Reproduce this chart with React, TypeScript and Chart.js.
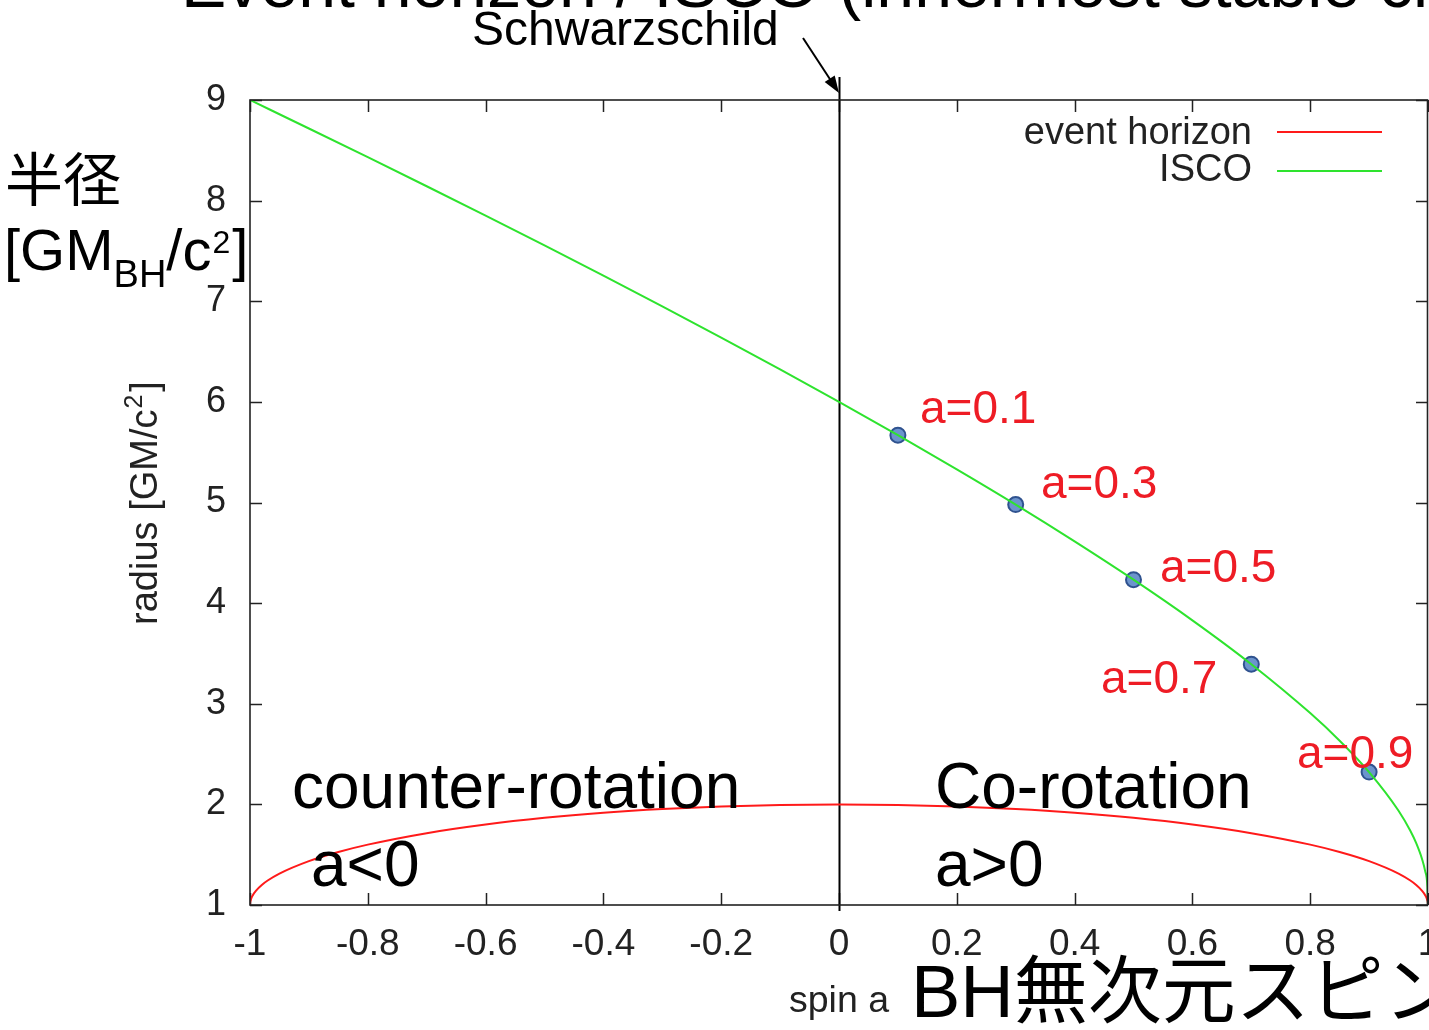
import { useEffect, useRef } from 'react';
import { Chart, registerables } from 'chart.js';

Chart.register(...registerables);

// Kerr black hole: outer event horizon radius vs spin
const horizonSpin = [-1, -0.9999, -0.999, -0.995, -0.99, -0.98, -0.97, -0.95, -0.9, -0.85, -0.8, -0.7, -0.6, -0.5, -0.4, -0.3, -0.2, -0.1, 0, 0.1, 0.2, 0.3, 0.4, 0.5, 0.6, 0.7, 0.8, 0.85, 0.9, 0.95, 0.97, 0.98, 0.99, 0.995, 0.999, 0.9999, 1];
const horizonRadius = [1, 1.0141, 1.0447, 1.0999, 1.1411, 1.199, 1.2431, 1.3122, 1.4359, 1.5268, 1.6, 1.7141, 1.8, 1.866, 1.9165, 1.9539, 1.9798, 1.995, 2, 1.995, 1.9798, 1.9539, 1.9165, 1.866, 1.8, 1.7141, 1.6, 1.5268, 1.4359, 1.3122, 1.2431, 1.199, 1.1411, 1.0999, 1.0447, 1.0141, 1];

// Innermost stable circular orbit radius vs spin
const iscoSpin = [-1, -0.9, -0.8, -0.7, -0.6, -0.5, -0.4, -0.3, -0.2, -0.1, 0, 0.1, 0.2, 0.3, 0.4, 0.5, 0.6, 0.7, 0.8, 0.85, 0.9, 0.95, 0.97, 0.98, 0.99, 0.995, 0.999, 1];
const iscoRadius = [9, 8.717, 8.432, 8.143, 7.851, 7.555, 7.254, 6.949, 6.639, 6.323, 6, 5.669, 5.329, 4.979, 4.614, 4.233, 3.829, 3.393, 2.907, 2.633, 2.321, 1.937, 1.738, 1.614, 1.455, 1.341, 1.182, 1];

// Highlighted spins on the ISCO curve
const markedSpin = [0.1, 0.3, 0.5, 0.7, 0.9];
const markedRadius = [5.669, 4.979, 4.233, 3.393, 2.321];
const markedLabels = ['a=0.1', 'a=0.3', 'a=0.5', 'a=0.7', 'a=0.9'];

const seriesNames = ['event horizon', 'ISCO'];

const xTickValues = [-1, -0.8, -0.6, -0.4, -0.2, 0, 0.2, 0.4, 0.6, 0.8, 1];
const xTickLabels = ['-1', '-0.8', '-0.6', '-0.4', '-0.2', '0', '0.2', '0.4', '0.6', '0.8', '1'];
const yTickValues = [1, 2, 3, 4, 5, 6, 7, 8, 9];
const yTickLabels = ['1', '2', '3', '4', '5', '6', '7', '8', '9'];

const SANS = '"Liberation Sans", Arial, Helvetica, sans-serif';
const JP = '"Liberation Sans", "Noto Sans CJK JP", sans-serif';
const RED_TEXT = '#ee1c25';
const AXIS_INK = '#222222';

// Label placements (left x, baseline y) for the spin markers
const markedLabelPos: [number, number][] = [
  [920, 423],
  [1041, 498],
  [1160, 582],
  [1101, 693],
  [1297, 768],
];

const framePlugin = {
  id: 'frame',
  beforeDatasetsDraw(chart: any) {
    const { ctx, chartArea } = chart;
    const xs = chart.scales.x;
    const ys = chart.scales.y;
    const tick = 12;
    ctx.save();
    ctx.strokeStyle = AXIS_INK;
    ctx.lineWidth = 1.5;
    ctx.beginPath();
    xTickValues.forEach((v) => {
      const px = Math.round(xs.getPixelForValue(v)) + 0.5;
      ctx.moveTo(px, chartArea.bottom);
      ctx.lineTo(px, chartArea.bottom - tick);
      ctx.moveTo(px, chartArea.top);
      ctx.lineTo(px, chartArea.top + tick);
    });
    yTickValues.forEach((v) => {
      const py = Math.round(ys.getPixelForValue(v)) + 0.5;
      ctx.moveTo(chartArea.left, py);
      ctx.lineTo(chartArea.left + tick, py);
      ctx.moveTo(chartArea.right, py);
      ctx.lineTo(chartArea.right - tick, py);
    });
    ctx.stroke();

    // x tick labels, placed on the x scale
    ctx.fillStyle = AXIS_INK;
    ctx.font = `37px ${SANS}`;
    ctx.textAlign = 'center';
    ctx.textBaseline = 'middle';
    xTickValues.forEach((v, i) => {
      ctx.fillText(xTickLabels[i], xs.getPixelForValue(v), chartArea.bottom + 40);
    });

    // a = 0 (Schwarzschild) divider
    const zx = Math.round(xs.getPixelForValue(0)) + 0.5;
    ctx.strokeStyle = '#000';
    ctx.lineWidth = 2;
    ctx.beginPath();
    ctx.moveTo(zx, chartArea.top - 23);
    ctx.lineTo(zx, chartArea.bottom + 6);
    ctx.stroke();
    ctx.restore();
  },
  afterDraw(chart: any) {
    const { ctx, chartArea } = chart;
    const xs = chart.scales.x;
    ctx.save();

    // plot border
    ctx.strokeStyle = AXIS_INK;
    ctx.lineWidth = 1.6;
    ctx.strokeRect(chartArea.left, chartArea.top, chartArea.right - chartArea.left - 0.5, chartArea.bottom - chartArea.top);

    // legend
    ctx.font = `38px ${SANS}`;
    ctx.fillStyle = AXIS_INK;
    ctx.textAlign = 'right';
    ctx.textBaseline = 'alphabetic';
    const legendRows = [
      { text: 144, line: 132 },
      { text: 181, line: 171 },
    ];
    chart.data.datasets.slice(0, 2).forEach((ds: any, i: number) => {
      ctx.fillText(ds.label, 1252, legendRows[i].text);
      ctx.strokeStyle = ds.borderColor;
      ctx.lineWidth = 2;
      ctx.beginPath();
      ctx.moveTo(1277, legendRows[i].line);
      ctx.lineTo(1382, legendRows[i].line);
      ctx.stroke();
    });

    // axis titles
    ctx.fillStyle = AXIS_INK;
    ctx.textAlign = 'center';
    ctx.font = `37.5px ${SANS}`;
    ctx.fillText('spin a', xs.getPixelForValue(0), 1012);

    ctx.save();
    ctx.translate(157, 503);
    ctx.rotate(-Math.PI / 2);
    ctx.textAlign = 'left';
    const main = 'radius [GM/c';
    ctx.font = `38px ${SANS}`;
    const wMain = ctx.measureText(main).width;
    ctx.font = `25px ${SANS}`;
    const wSup = ctx.measureText('2').width;
    ctx.font = `38px ${SANS}`;
    const wEnd = ctx.measureText(']').width;
    let cx = -(wMain + wSup + wEnd + 4) / 2;
    ctx.fillText(main, cx, 0);
    cx += wMain + 1;
    ctx.font = `25px ${SANS}`;
    ctx.fillText('2', cx, -15);
    cx += wSup + 3;
    ctx.font = `38px ${SANS}`;
    ctx.fillText(']', cx, 0);
    ctx.restore();

    // spin marker labels
    ctx.fillStyle = RED_TEXT;
    ctx.textAlign = 'left';
    ctx.font = `46px ${SANS}`;
    markedLabels.forEach((t, i) => {
      ctx.fillText(t, markedLabelPos[i][0], markedLabelPos[i][1]);
    });

    // rotation regimes
    ctx.fillStyle = '#000';
    ctx.font = `64px ${SANS}`;
    ctx.fillText('counter-rotation', 292, 808);
    ctx.fillText('a<0', 311, 886);
    ctx.fillText('Co-rotation', 935, 808);
    ctx.fillText('a>0', 935, 886);

    // heading (partly above the canvas)
    ctx.font = `68px ${SANS}`;
    ctx.fillText('Event horizon / ISCO (innermost stable circular orbit)', 181, 7);

    // Schwarzschild pointer
    ctx.font = `48px ${SANS}`;
    ctx.fillText('Schwarzschild', 472, 45);
    const tipX = xs.getPixelForValue(0);
    const tipY = chartArea.top - 7;
    const sx = 803;
    const sy = 38;
    const ang = Math.atan2(tipY - sy, tipX - sx);
    ctx.strokeStyle = '#000';
    ctx.lineWidth = 2;
    ctx.beginPath();
    ctx.moveTo(sx, sy);
    ctx.lineTo(tipX - 14 * Math.cos(ang), tipY - 14 * Math.sin(ang));
    ctx.stroke();
    ctx.beginPath();
    ctx.moveTo(tipX, tipY);
    ctx.lineTo(tipX - 17 * Math.cos(ang) + 6 * Math.sin(ang), tipY - 17 * Math.sin(ang) - 6 * Math.cos(ang));
    ctx.lineTo(tipX - 17 * Math.cos(ang) - 6 * Math.sin(ang), tipY - 17 * Math.sin(ang) + 6 * Math.cos(ang));
    ctx.closePath();
    ctx.fillStyle = '#000';
    ctx.fill();

    // Japanese axis captions
    ctx.fillStyle = '#000';
    ctx.font = `58px ${JP}`;
    ctx.fillText('半径', 5, 201);
    let bx = 4;
    ctx.font = `58px ${SANS}`;
    ctx.fillText('[GM', bx, 270);
    bx += ctx.measureText('[GM').width;
    ctx.font = `38px ${SANS}`;
    ctx.fillText('BH', bx, 287);
    bx += ctx.measureText('BH').width;
    ctx.font = `58px ${SANS}`;
    ctx.fillText('/c', bx, 270);
    bx += ctx.measureText('/c').width;
    ctx.font = `32px ${SANS}`;
    ctx.fillText('2', bx + 1, 253);
    bx += ctx.measureText('2').width + 3;
    ctx.font = `58px ${SANS}`;
    ctx.fillText(']', bx, 270);

    ctx.font = `74px ${JP}`;
    ctx.fillText('BH無次元スピン', 911, 1017);

    ctx.restore();
  },
};

export default function App() {
  const canvasRef = useRef<HTMLCanvasElement | null>(null);

  useEffect(() => {
    const canvas = canvasRef.current;
    if (!canvas) return;

    const chart = new Chart(canvas, {
      type: 'line',
      data: {
        datasets: [
          {
            label: seriesNames[0],
            data: horizonSpin.map((x, i) => ({ x, y: horizonRadius[i] })),
            borderColor: '#ff1a1a',
            borderWidth: 2,
            pointRadius: 0,
            cubicInterpolationMode: 'monotone',
            fill: false,
          },
          {
            label: seriesNames[1],
            data: iscoSpin.map((x, i) => ({ x, y: iscoRadius[i] })),
            borderColor: '#2ee32e',
            borderWidth: 2,
            pointRadius: 0,
            cubicInterpolationMode: 'monotone',
            fill: false,
          },
          {
            type: 'scatter',
            label: 'marked spins',
            data: markedSpin.map((x, i) => ({ x, y: markedRadius[i] })),
            showLine: false,
            pointRadius: 7.5,
            pointBackgroundColor: '#6c94cd',
            pointBorderColor: '#2f528f',
            pointBorderWidth: 2,
          },
        ],
      } as any,
      options: {
        responsive: false,
        animation: false,
        events: [],
        layout: { autoPadding: false, padding: { top: 100, right: 1, left: 0, bottom: 0 } },
        plugins: {
          legend: { display: false },
          tooltip: { enabled: false },
          title: { display: false },
        },
        scales: {
          x: {
            type: 'linear',
            min: -1,
            max: 1,
            grid: { display: false, drawTicks: false },
            border: { display: false },
            afterBuildTicks: (scale: any) => {
              scale.ticks = xTickValues.map((v) => ({ value: v }));
            },
            afterFit: (scale: any) => {
              scale.height = 125;
            },
            ticks: { display: false },
          },
          y: {
            type: 'linear',
            min: 1,
            max: 9,
            grid: { display: false, drawTicks: false },
            border: { display: false },
            afterBuildTicks: (scale: any) => {
              scale.ticks = yTickValues.map((v) => ({ value: v }));
            },
            afterFit: (scale: any) => {
              scale.width = 250;
            },
            ticks: {
              autoSkip: false,
              padding: 24,
              color: AXIS_INK,
              font: { family: SANS, size: 36 },
              callback: (_v: any, i: number) => yTickLabels[i],
            },
          },
        },
      } as any,
      plugins: [framePlugin],
    });

    return () => chart.destroy();
  }, []);

  return (
    <div style={{ position: 'absolute', left: 0, top: 0, width: 1429, height: 1030, background: '#fff', overflow: 'hidden' }}>
      <canvas ref={canvasRef} width={1429} height={1030} style={{ display: 'block' }} />
    </div>
  );
}
